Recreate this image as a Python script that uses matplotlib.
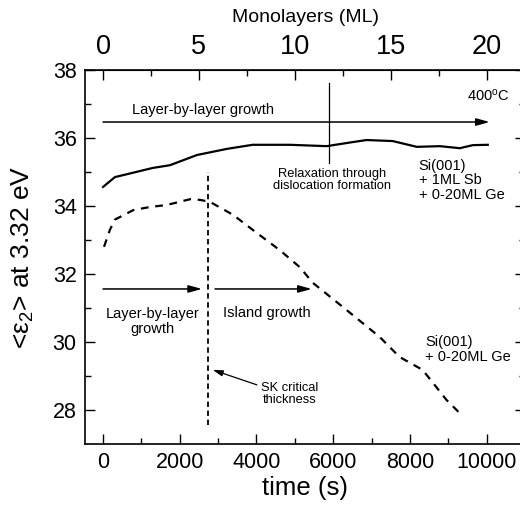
import matplotlib
matplotlib.use("Agg")
import matplotlib.pyplot as plt
import numpy as np

plt.rcParams['font.family'] = ['Liberation Sans', 'DejaVu Sans']
plt.rcParams['mathtext.fontset'] = 'custom'
plt.rcParams['mathtext.rm'] = 'Liberation Sans'
plt.rcParams['mathtext.it'] = 'Liberation Sans'

# Si(001) + 1ML Sb + 0-20ML Ge (solid)
sb_time = [0, 310, 1300, 1745, 2450, 3230, 3900, 4870, 5830, 6510, 6870, 7550, 8180, 8780, 9300, 9640, 10030]
sb_eps2 = [34.56, 34.85, 35.12, 35.2, 35.5, 35.68, 35.8, 35.8, 35.76, 35.88, 35.94, 35.91, 35.74, 35.76, 35.7, 35.79, 35.8]

# Si(001) + 0-20ML Ge (dashed)
ge_time = [26, 180, 310, 790, 1220, 1660, 2270, 2530, 2790, 3390, 3900, 4610, 5130, 5470, 6350, 7210, 7730, 8330, 8600, 8950, 9350]
ge_eps2 = [32.8, 33.3, 33.6, 33.88, 33.97, 34.03, 34.2, 34.18, 34.12, 33.74, 33.3, 32.7, 32.2, 31.74, 30.94, 30.15, 29.56, 29.18, 28.8, 28.3, 27.85]

x_ticks = [0, 2000, 4000, 6000, 8000, 10000]
y_ticks = [28, 30, 32, 34, 36, 38]
ml_ticks = [0, 5, 10, 15, 20]
sec_per_ml = 500.0

fig = plt.figure(figsize=(5.2, 5.14), dpi=100)
ax = fig.add_axes([85/520, 1 - 444/514, 440/520, 374/514])

ax.plot(sb_time, sb_eps2, color='black', lw=1.6)
ax.plot(ge_time, ge_eps2, color='black', lw=1.6, ls=(0, (3.5, 3)))

# vertical markers
ax.plot([2730, 2730], [27.56, 35.0], color='black', lw=1.3, ls=(0, (3, 2)))
ax.plot([5890, 5890], [35.26, 37.62], color='black', lw=0.9)

arrow_kw = dict(arrowstyle='-|>,head_length=0.8,head_width=0.22', color='black', lw=1.1, shrinkA=0, shrinkB=0)
ax.annotate('', xy=(10080, 36.47), xytext=(0, 36.47), arrowprops=arrow_kw)
ax.annotate('', xy=(2580, 31.56), xytext=(0, 31.56), arrowprops=arrow_kw)
ax.annotate('', xy=(5440, 31.56), xytext=(2920, 31.56), arrowprops=arrow_kw)
ax.annotate('', xy=(2860, 29.18), xytext=(4010, 28.74),
            arrowprops=dict(arrowstyle='-|>,head_length=0.6,head_width=0.18', color='black', lw=0.9, shrinkA=0, shrinkB=0))

ax.text(750, 36.82, 'Layer-by-layer growth', fontsize=10.5, ha='left', va='center')
ax.text(10600, 37.26, '400$^{\\mathrm{o}}$C', fontsize=10.5, ha='right', va='center')
ax.text(5970, 34.76, 'Relaxation through\ndislocation formation', fontsize=9.3, ha='center', va='center', linespacing=1.0)
ax.text(8230, 34.76, 'Si(001)\n+ 1ML Sb\n+ 0-20ML Ge', fontsize=10.5, ha='left', va='center', linespacing=1.05)
ax.text(1280, 30.6, 'Layer-by-layer\ngrowth', fontsize=10.5, ha='center', va='center', linespacing=1.05)
ax.text(3130, 30.85, 'Island growth', fontsize=10.5, ha='left', va='center')
ax.text(8390, 29.78, 'Si(001)\n+ 0-20ML Ge', fontsize=10.5, ha='left', va='center', linespacing=1.05)
ax.text(4870, 28.47, 'SK critical\nthickness', fontsize=9.3, ha='center', va='center', linespacing=1.05)

ax.set_xlim(-470, 11000)
ax.set_ylim(27, 38)
ax.set_xticks(x_ticks)
ax.set_xticks(np.arange(1000, 11000, 2000), minor=True)
ax.set_yticks(y_ticks)
ax.set_yticks(np.arange(29, 38, 2), minor=True)
ax.tick_params(which='both', direction='in', labelsize=15.5, top=False, right=True)
ax.tick_params(which='major', length=7, width=1)
ax.tick_params(which='minor', length=4, width=1)
ax.tick_params(axis='x', which='both', pad=6)
ax.tick_params(axis='y', which='both', pad=6)
ax.set_xlabel('time (s)', fontsize=18.5, labelpad=2)
ax.set_ylabel('<ε$_2$> at 3.32 eV', fontsize=19, labelpad=12)
for s in ax.spines.values():
    s.set_linewidth(1.2)

sec = ax.secondary_xaxis('top', functions=(lambda t: t / sec_per_ml, lambda m: m * sec_per_ml))
sec.set_xticks(ml_ticks)
sec.set_xticks(np.arange(2.5, 22, 5), minor=True)
sec.tick_params(which='both', direction='in', labelsize=19.5, pad=7)
sec.tick_params(which='major', length=7, width=1)
sec.tick_params(which='minor', length=4, width=1)
sec.set_xlabel('Monolayers (ML)', fontsize=14, labelpad=9)

fig.savefig('out.png', dpi=100)
